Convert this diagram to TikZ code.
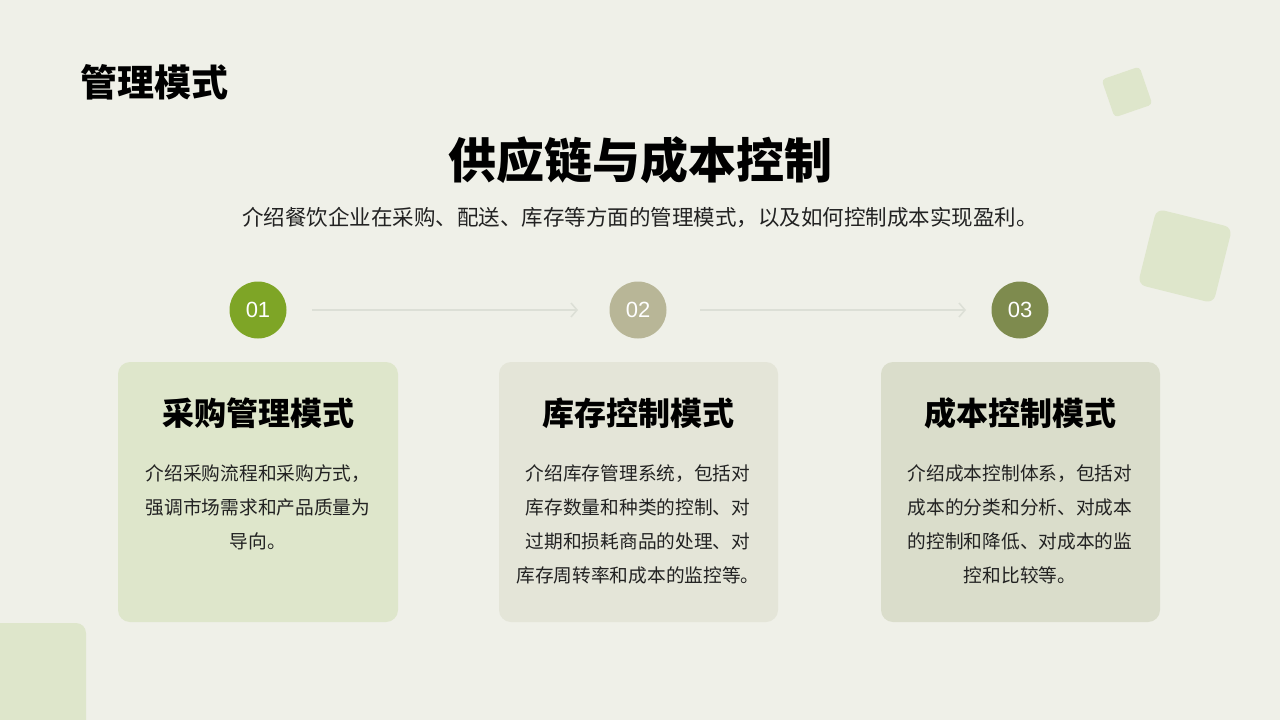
\documentclass[tikz,border=0pt]{standalone}
\usepackage{fontspec}
\setmainfont{Liberation Sans}
\newfontfamily\cjk{Noto Sans CJK SC}
\usetikzlibrary{arrows.meta}
\definecolor{bgc}{HTML}{EFF0E8}
\definecolor{deco}{HTML}{DEE6CB}
\definecolor{cardA}{HTML}{DEE6CB}
\definecolor{cardB}{HTML}{E4E5D8}
\definecolor{cardC}{HTML}{DADDCB}
\definecolor{circA}{HTML}{7EA526}
\definecolor{circB}{HTML}{B8B697}
\definecolor{circC}{HTML}{7E8B4E}
\definecolor{arr}{HTML}{DCDFD6}
\definecolor{bodyc}{HTML}{222222}
\tikzset{
  cardbox/.style={rounded corners=12pt, draw=none},
  numcirc/.style={circle, minimum size=57pt, inner sep=0pt, text=white, font=\fontsize{22}{26}\selectfont},
  cardtitle/.style={font=\cjk\bfseries\fontsize{32}{38}\selectfont, text=black},
  cardbody/.style={font=\cjk\fontsize{18.7}{34}\selectfont, text=bodyc, align=center},
  flowarrow/.style={draw=arr, line width=1.5pt, -{Straight Barb[length=6pt,width=14pt]}},
}
\begin{document}
\begin{tikzpicture}[x=1pt,y=-1pt]
\fill[bgc] (0,0) rectangle (1280,720);
\useasboundingbox (0,0) rectangle (1280,720);
% decorative squares
\fill[deco, rounded corners=4pt, rotate around={19:(1127,92)}] (1107,72) rectangle (1147,112);
\fill[deco, rounded corners=8pt, rotate around={-14:(1185,256)}] (1146,217) rectangle (1224,295);
\fill[deco, rounded corners=10pt] (-20,623) rectangle (86,740);
% titles
\node[anchor=west, font=\cjk\bfseries\fontsize{37}{42}\selectfont] (hdr) at (77,82) {管理模式};
\node[font=\cjk\bfseries\fontsize{48}{56}\selectfont] (main) at (640,160) {供应链与成本控制};
\node[font=\cjk\fontsize{21.5}{26}\selectfont, text=bodyc] (sub) at (640,218) {介绍餐饮企业在采购、配送、库存等方面的管理模式，以及如何控制成本实现盈利。};
% circles
\node[numcirc, fill=circA] (c1) at (258,310) {01};
\node[numcirc, fill=circB] (c2) at (638,310) {02};
\node[numcirc, fill=circC] (c3) at (1020,310) {03};
\coordinate (a1s) at (312,310); \coordinate (a1e) at (578,310);
\coordinate (a2s) at (700,310); \coordinate (a2e) at (966,310);
\draw[flowarrow] (a1s) -- (a1e);
\draw[flowarrow] (a2s) -- (a2e);
% cards
\fill[cardA, cardbox] (118,362) rectangle (398,622);
\fill[cardB, cardbox] (499,362) rectangle (778,622);
\fill[cardC, cardbox] (881,362) rectangle (1160,622);
\node[cardtitle] (t1) at (258,413) {采购管理模式};
\node[cardtitle] (t2) at (638,413) {库存控制模式};
\node[cardtitle] (t3) at (1020,413) {成本控制模式};
\node[cardbody] (b1) at (258,507) {介绍采购流程和采购方式，\\强调市场需求和产品质量为\\导向。};
\node[cardbody] (b2) at (638,524) {介绍库存管理系统，包括对\\库存数量和种类的控制、对\\过期和损耗商品的处理、对\\库存周转率和成本的监控等。};
\node[cardbody] (b3) at (1020,524) {介绍成本控制体系，包括对\\成本的分类和分析、对成本\\的控制和降低、对成本的监\\控和比较等。};
\end{tikzpicture}
\end{document}
